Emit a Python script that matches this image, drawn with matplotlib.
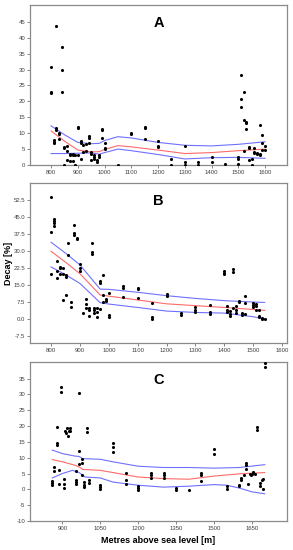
import numpy as np
import matplotlib
matplotlib.use("Agg")
import matplotlib.pyplot as plt

plt.rcParams['font.family'] = ['Liberation Sans', 'DejaVu Sans']
plt.rcParams['axes.unicode_minus'] = False

# ---- panel A ----
a_x = [800, 800, 800, 810, 810, 810, 820, 820, 820, 830, 830, 830,
       840, 840, 840, 850, 850, 850, 860, 860, 860, 870, 870, 870,
       880, 880, 880, 890, 890, 900, 900, 900, 910, 910, 910, 920, 920,
       930, 930, 940, 940, 940, 950, 950, 950, 960, 960, 960, 970, 970,
       980, 980, 990, 990, 990, 1000, 1000, 1000, 1050, 1100, 1100,
       1150, 1150, 1150, 1200, 1200, 1200, 1250, 1250, 1300, 1300, 1300,
       1350, 1350, 1400, 1400, 1450, 1500, 1500, 1500, 1510, 1510, 1510,
       1520, 1520, 1520, 1530, 1530, 1530, 1540, 1540, 1540, 1550, 1550,
       1560, 1560, 1560, 1570, 1570, 1580, 1580, 1580, 1590, 1590, 1590,
       1600, 1600]
a_y = [30.7, 22.9, 22.6, 7.9, 7.3, 7.0, 43.7, 11.6, 11.1, 10.0, 9.6, 8.3,
       37.0, 30.0, 23.0, 5.7, 5.5, 0.0, 6.0, 4.5, 1.5, 3.5, 3.0, 1.3,
       3.5, 3.0, 1.3, 3.2, 0.0, 12.0, 11.7, 3.2, 7.6, 6.8, 2.0, 6.2, 4.2,
       6.5, 4.3, 9.0, 8.4, 6.8, 4.0, 3.5, 1.7, 3.0, 2.5, 1.8, 1.5, 0.8,
       3.0, 2.5, 11.3, 11.0, 8.4, 6.8, 5.5, 5.0, 0.0, 10.0, 9.6,
       12.0, 11.5, 8.3, 7.6, 6.0, 5.8, 2.0, 0.0, 6.0, 1.0, 0.0,
       1.0, 0.0, 2.5, 1.0, 0.2, 2.5, 2.0, 0.3, 28.3, 20.7, 18.3,
       23.0, 14.0, 4.5, 13.5, 13.2, 11.3, 5.7, 5.3, 1.7, 2.0, 0.0,
       5.3, 4.0, 3.7, 3.8, 3.5, 12.7, 3.5, 3.0, 9.3, 7.0, 4.8,
       6.0, 4.6]
a_fit_x = [800, 850, 900, 950, 980, 1000, 1050, 1100, 1200, 1300, 1400, 1500, 1600]
a_fit = [10.7, 7.5, 4.7, 4.1, 4.2, 4.9, 6.1, 5.7, 4.7, 3.6, 3.9, 4.5, 5.0]
a_upper = [12.3, 9.5, 7.1, 6.7, 6.8, 7.7, 8.9, 8.5, 7.1, 6.2, 6.0, 6.5, 7.3]
a_lower = [3.6, 3.6, 3.7, 3.8, 3.4, 3.9, 5.0, 4.5, 3.3, 1.9, 2.3, 2.4, 2.1]

# ---- panel B ----
b_x = [800, 800, 800, 810, 810, 810, 810, 820, 820, 820, 830, 830, 830,
       840, 840, 843, 850, 850, 850, 860, 860, 870, 870, 880, 880, 880,
       890, 890, 900, 900, 900, 910, 920, 920, 920, 930, 930, 930,
       940, 940, 940, 950, 950, 950, 960, 960, 960, 970, 970, 970,
       980, 980, 980, 990, 990, 1000, 1000, 1000, 1050, 1050, 1050,
       1100, 1100, 1100, 1150, 1150, 1150, 1200, 1200, 1250, 1250,
       1300, 1300, 1300, 1350, 1350, 1350, 1400, 1400, 1400,
       1410, 1410, 1410, 1420, 1420, 1420, 1430, 1430, 1430,
       1440, 1440, 1440, 1450, 1450, 1460, 1460, 1470, 1470, 1470,
       1500, 1500, 1500, 1510, 1510, 1510, 1520, 1520, 1520,
       1530, 1530, 1540]
b_y = [54.0, 38.5, 19.8, 44.0, 43.2, 42.2, 41.1, 25.7, 21.1, 17.9, 23.0, 22.3, 19.6,
       22.3, 19.8, 8.3, 19.3, 18.4, 10.5, 33.6, 28.2, 7.5, 5.0, 41.4, 37.8, 37.0,
       35.8, 35.1, 24.0, 22.5, 21.1, 2.4, 8.7, 6.4, 4.6, 4.9, 3.9, 1.3,
       33.3, 29.4, 28.8, 4.9, 3.7, 2.4, 4.9, 3.1, 0.6, 16.7, 15.9, 4.3,
       19.2, 10.5, 7.5, 8.7, 7.8, 11.2, 1.6, 0.9, 14.5, 13.4, 9.8,
       13.7, 13.1, 9.0, 7.1, 0.9, 0.0, 10.8, 10.2, 2.4, 1.6,
       5.0, 3.8, 2.8, 6.0, 3.1, 1.9, 21.1, 20.4, 19.6,
       5.6, 3.8, 3.1, 3.6, 1.9, 1.2, 22.0, 20.8, 4.6,
       5.6, 3.8, 2.6, 8.0, 7.2, 2.4, 1.6, 9.9, 6.8, 1.9,
       7.1, 6.1, 5.3, 6.4, 5.6, 3.8, 3.8, 1.3, 0.7,
       0.2, -0.1, 0.0]
b_fit_x = [800, 850, 900, 970, 1000, 1100, 1200, 1300, 1400, 1500, 1540]
b_fit = [29.8, 25.0, 19.9, 10.5, 10.0, 8.3, 6.6, 5.8, 5.0, 4.1, 3.7]
b_upper = [33.8, 29.0, 23.8, 13.1, 13.0, 11.7, 10.2, 9.0, 8.0, 7.4, 7.2]
b_lower = [22.9, 19.5, 15.6, 7.1, 6.5, 5.0, 3.4, 2.8, 2.5, 0.9, -0.1]

# ---- panel C ----
c_x = [860, 860, 860, 868, 868, 878, 878, 878, 887, 887, 896, 896,
       906, 906, 906, 912, 916, 920, 924, 928, 932, 932,
       955, 955, 955, 955, 966, 966, 966, 976, 976, 976,
       987, 987, 987, 996, 996, 1007, 1007, 1050, 1050, 1050,
       1100, 1100, 1100, 1150, 1150, 1150, 1200, 1200, 1200,
       1250, 1250, 1250, 1300, 1300, 1300, 1350, 1350, 1400,
       1450, 1450, 1450, 1500, 1500, 1550, 1550, 1600, 1600,
       1605, 1608, 1618, 1625, 1625, 1625, 1635, 1640, 1645, 1650,
       1655, 1662, 1670, 1670, 1680, 1680, 1688, 1692, 1695, 1700, 1700]
c_y = [2.5, 2.0, 1.5, 7.0, 5.7, 19.7, 14.5, 13.9, 6.0, 1.6, 32.2, 30.8,
       3.2, 1.8, 0.5, 18.5, 17.8, 19.4, 17.0, 18.4, 19.4, 18.4,
       5.7, 2.8, 2.3, 1.8, 30.4, 12.0, 8.0, 9.7, 8.4, 4.6,
       2.3, 1.5, 0.8, 19.4, 18.1, 2.8, 2.1, 1.5, 0.8, 0.0,
       14.5, 13.4, 11.8, 5.3, 2.8, 1.8, 1.1, 0.4, -0.1,
       5.3, 4.4, 3.7, 5.3, 4.4, 3.7, 0.5, -0.1, -0.1,
       5.3, 4.4, 2.5, 12.9, 11.3, 1.1, 0.2, 1.5, 1.1,
       2.8, 3.6, 4.6, 8.4, 7.6, 6.5, 1.8, 5.0, 4.4, 5.0,
       5.5, 5.0, 19.7, 18.7, 2.1, 1.1, 2.8, 3.4, 0.2, 40.0, 38.7]
c_fit_x = [860, 900, 950, 966, 980, 1050, 1100, 1200, 1300, 1400, 1500, 1600, 1700]
c_fit = [9.4, 8.7, 7.6, 7.1, 6.3, 6.0, 5.3, 3.9, 3.4, 3.2, 4.2, 4.9, 5.3]
c_upper = [12.4, 11.3, 10.5, 10.4, 9.7, 9.5, 8.7, 7.3, 6.9, 6.9, 6.7, 6.9, 7.8]
c_lower_x = [860, 900, 940, 966, 990, 1050, 1100, 1200, 1300, 1400, 1500, 1550, 1600, 1650, 1700]
c_lower = [3.6, 5.0, 6.0, 5.3, 3.9, 3.6, 2.3, 1.3, 0.7, 1.0, 1.5, 1.3, 0.4, -0.8, -1.4]

panels = [
    dict(name='A', x=a_x, y=a_y, fx=a_fit_x, fit=a_fit, up=a_upper, lx=a_fit_x, lo=a_lower,
         xlim=(721, 1682), ylim=(0, 50.3), xt=np.arange(800, 1601, 100),
         yt=np.arange(0, 46, 5), fmt='%d', rect=[0.1024, 0.700, 0.877, 0.2909]),
    dict(name='B', x=b_x, y=b_y, fx=b_fit_x, fit=b_fit, up=b_upper, lx=b_fit_x, lo=b_lower,
         xlim=(727, 1617), ylim=(-10.7, 60), xt=np.arange(800, 1601, 100),
         yt=np.arange(-7.5, 53, 7.5), fmt='%.1f', rect=[0.1024, 0.3764, 0.877, 0.2909]),
    dict(name='C', x=c_x, y=c_y, fx=c_fit_x, fit=c_fit, up=c_upper, lx=c_lower_x, lo=c_lower,
         xlim=(772, 1788), ylim=(-10, 40.2), xt=np.arange(900, 1651, 150),
         yt=np.arange(-10, 36, 5), fmt='%d', rect=[0.1024, 0.0527, 0.877, 0.289]),
]

fig = plt.figure(figsize=(2.93, 5.5), dpi=100)

for p in panels:
    ax = fig.add_axes(p['rect'])
    ax.plot(p['fx'], p['up'], color='#7070ff', lw=0.8)
    ax.plot(p['lx'], p['lo'], color='#7070ff', lw=0.8)
    ax.plot(p['fx'], p['fit'], color='#ff6a6a', lw=0.8)
    ax.scatter(p['x'], p['y'], s=5, color='black', zorder=3, linewidths=0)
    ax.set_xlim(*p['xlim'])
    ax.set_ylim(*p['ylim'])
    ax.set_xticks(p['xt'])
    ax.set_yticks(p['yt'])
    ax.yaxis.set_major_formatter(matplotlib.ticker.FormatStrFormatter(p['fmt']))
    ax.tick_params(labelsize=4.3, length=2, width=0.6, color='#707070',
                   labelcolor='#404040', pad=1.5)
    for s in ax.spines.values():
        s.set_color('#8a8a8a')
        s.set_linewidth(0.9)
    ax.text(0.5, 0.93, p['name'], transform=ax.transAxes, ha='center', va='top',
            fontsize=10.5, fontweight='bold')
    if p['name'] == 'B':
        ax.set_ylabel('Decay [%]', fontsize=6.5, fontweight='bold')
        ax.yaxis.set_label_coords(-0.066, 0.5)
    if p['name'] == 'C':
        ax.set_xlabel('Metres above sea level [m]', fontsize=6.5, fontweight='bold', labelpad=4)

fig.savefig('out.png', dpi=100)
